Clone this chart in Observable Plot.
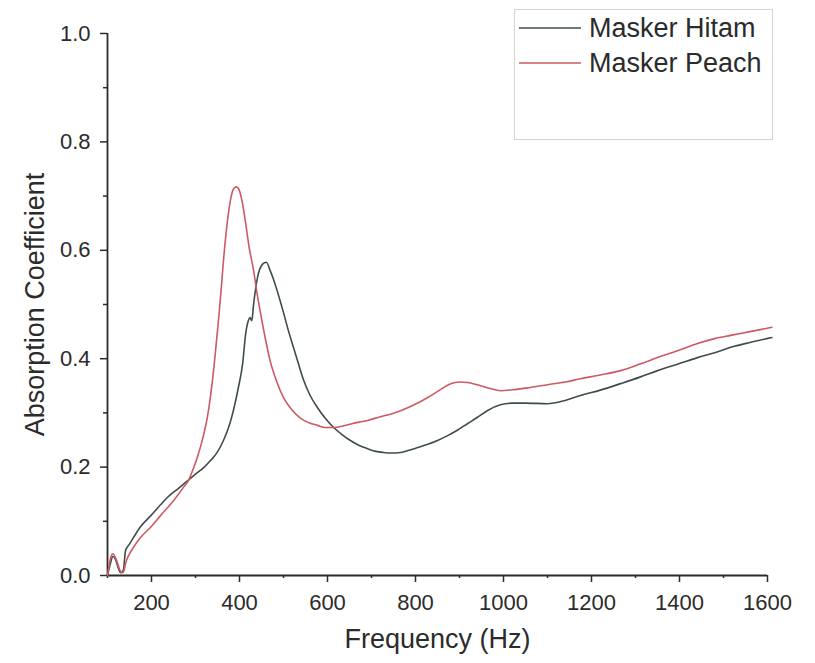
<!DOCTYPE html>
<html>
<head>
<meta charset="utf-8">
<script src="https://cdn.jsdelivr.net/npm/d3@7"></script>
<script src="https://cdn.jsdelivr.net/npm/@observablehq/plot@0.6"></script>
<style>
  html, body { margin: 0; padding: 0; background: #fff; }
  #wrap { position: relative; width: 815px; height: 663px; font-family: "Liberation Sans", Arial, sans-serif; }
  #legend { position: absolute; left: 514px; top: 9px; width: 259px; height: 131px; border: 1.5px solid #d4d4d4; box-sizing: border-box; }
  #legend .row { position: absolute; left: 3px; display: flex; align-items: center; }
  #legend .row span { font-size: 27px; color: #2b2b2b; margin-left: 7px; }
</style>
</head>
<body>
<div id="wrap">
  <div id="chart"></div>
  <div id="legend"></div>
</div>
<script>
// Series names
const seriesNames = ["Masker Hitam", "Masker Peach"];
const seriesColors = ["#3f4d4a", "#cc5a62"];

// Masker Hitam
const freqHitam = [100,106,112,118,124,130,136,141,150,159,175,198,220,236,260,285,300,320,334,350,364,376,386,397,407,414,420,424,428,432,441,452,461,470,477,485,493,500,510,523,535,545,560,577,595,614,633,652,672,691,710,727,745,766,785,805,828,850,873,895,918,941,965,993,1020,1050,1100,1140,1175,1220,1266,1310,1350,1400,1441,1480,1516,1560,1610];
const absHitam  = [0.0,0.02,0.035,0.03,0.015,0.005,0.01,0.046,0.058,0.07,0.09,0.11,0.13,0.144,0.16,0.177,0.187,0.2,0.212,0.228,0.25,0.275,0.304,0.345,0.39,0.446,0.47,0.476,0.47,0.50,0.55,0.574,0.578,0.562,0.547,0.527,0.505,0.485,0.455,0.42,0.388,0.362,0.333,0.31,0.29,0.273,0.26,0.249,0.24,0.234,0.229,0.227,0.226,0.227,0.231,0.236,0.242,0.249,0.258,0.268,0.28,0.292,0.305,0.315,0.318,0.318,0.317,0.323,0.332,0.342,0.354,0.366,0.378,0.391,0.402,0.411,0.421,0.43,0.439];

// Masker Peach
const freqPeach = [100,104,108,112,117,122,128,134,138,141,150,159,175,198,220,250,273,285,295,305,318,327,334,340,345,351,357,364,372,380,387,393,399,406,414,422,432,440,448,458,470,485,500,520,539,558,577,595,614,635,655,672,691,720,745,766,797,827,855,880,900,918,948,970,993,1025,1061,1100,1140,1175,1220,1266,1310,1350,1400,1441,1480,1516,1560,1610];
const absPeach  = [0.0,0.02,0.035,0.04,0.035,0.025,0.01,0.005,0.01,0.022,0.04,0.052,0.07,0.089,0.11,0.138,0.163,0.177,0.197,0.22,0.258,0.292,0.33,0.37,0.41,0.46,0.515,0.585,0.65,0.695,0.714,0.717,0.712,0.69,0.65,0.605,0.563,0.52,0.483,0.44,0.395,0.357,0.328,0.305,0.29,0.282,0.277,0.273,0.273,0.276,0.28,0.283,0.286,0.293,0.298,0.304,0.315,0.328,0.342,0.354,0.357,0.356,0.35,0.345,0.341,0.343,0.347,0.352,0.357,0.363,0.37,0.378,0.39,0.402,0.416,0.428,0.437,0.443,0.45,0.458];

// Axis ticks
const xMajorTicks = [200,400,600,800,1000,1200,1400,1600];
const xMinorTicks = [100,300,500,700,900,1100,1300,1500];
const yMajorTicks = [0.0,0.2,0.4,0.6,0.8,1.0];
const yMinorTicks = [0.1,0.3,0.5,0.7,0.9];
const xTitle = "Frequency (Hz)";
const yTitle = "Absorption Coefficient";

const data = [
  ...freqHitam.map((f, i) => ({series: seriesNames[0], f, a: absHitam[i]})),
  ...freqPeach.map((f, i) => ({series: seriesNames[1], f, a: absPeach[i]}))
];

const chart = Plot.plot({
  width: 815,
  height: 663,
  marginLeft: 107,
  marginRight: 48,
  marginTop: 33,
  marginBottom: 88,
  style: {fontFamily: "'Liberation Sans', Arial, sans-serif", fontSize: "22px", color: "#2b2b2b", background: "#fff"},
  x: {domain: [100, 1600]},
  y: {domain: [0, 1]},
  color: {domain: seriesNames, range: seriesColors},
  marks: [
    Plot.axisX(xMajorTicks, {tickSize: 7, tickPadding: 12, tickFormat: d => String(d), label: null, strokeWidth: 1.5}),
    Plot.axisX(xMinorTicks, {tickSize: 3, tickFormat: () => "", label: null, strokeWidth: 1.5}),
    Plot.axisY(yMajorTicks, {tickSize: 7, tickPadding: 10, tickFormat: d3.format(".1f"), label: null, strokeWidth: 1.5}),
    Plot.axisY(yMinorTicks, {tickSize: 4, tickFormat: () => "", label: null, strokeWidth: 1.5}),
    Plot.ruleY([0], {stroke: "#2b2b2b", strokeWidth: 1.8}),
    Plot.ruleX([100], {stroke: "#2b2b2b", strokeWidth: 1.8}),
    Plot.line(data, {x: "f", y: "a", z: "series", stroke: "series", strokeWidth: 1.6, curve: "monotone-x"}),
    Plot.text([xTitle], {frameAnchor: "bottom", dy: 72, fontSize: 27, fill: "#2b2b2b"}),
    Plot.text([yTitle], {frameAnchor: "left", textAnchor: "middle", dx: -72, rotate: -90, fontSize: 27, fill: "#2b2b2b"})
  ]
});
document.getElementById("chart").appendChild(chart);

// Legend
const legend = document.getElementById("legend");
seriesNames.forEach((name, i) => {
  const row = document.createElement("div");
  row.className = "row";
  row.style.top = (i === 0 ? 2 : 37) + "px";
  row.innerHTML = `<svg width="64" height="32"><line x1="1" x2="63" y1="16" y2="16" stroke="${seriesColors[i]}" stroke-width="1.6"/></svg><span>${name}</span>`;
  legend.appendChild(row);
});
</script>
</body>
</html>
